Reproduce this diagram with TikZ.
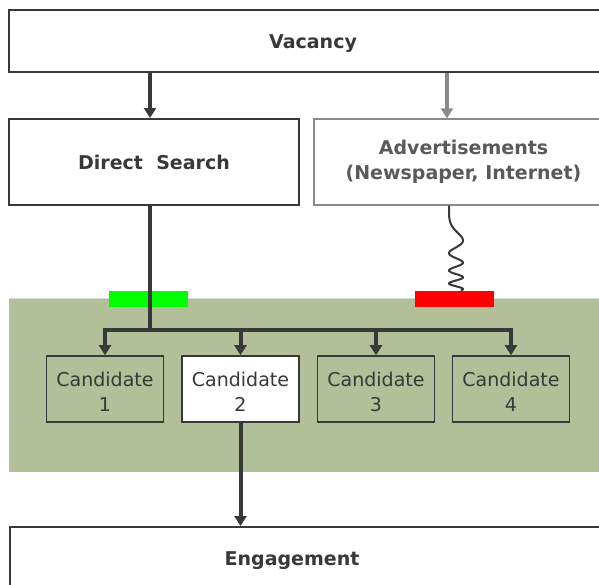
\documentclass[tikz,border=0pt]{standalone}
\usepackage{fontspec}
\setmainfont{DejaVu Sans}
\usetikzlibrary{arrows.meta}

\definecolor{linegray}{HTML}{383838}
\definecolor{adgray}{HTML}{8A8A8A}
\definecolor{adtext}{HTML}{5A5A5A}
\definecolor{poolgreen}{HTML}{B3BF98}

\begin{document}
\begin{tikzpicture}[x=1pt,y=-1pt]
    \tikzstyle{box}=[draw=linegray,line width=2pt,fill=white,inner sep=0pt]
    \tikzstyle{titletext}=[font=\fontsize{19}{25}\selectfont\bfseries,text=linegray,align=center]
    \tikzstyle{oneline}=[text height=14pt,text depth=0pt]
    \tikzstyle{candbox}=[draw=linegray,line width=1.6pt,minimum width=117pt,minimum height=66pt,inner sep=0pt]
    \tikzstyle{candtext}=[font=\fontsize{19}{25}\selectfont,text=linegray,align=center,yshift=-3pt]
    \tikzstyle{flow}=[draw=linegray,line width=4pt,-{Triangle[length=10pt,width=12pt]}]
    \tikzstyle{bar}=[minimum width=79pt,minimum height=16pt,inner sep=0pt]

    \useasboundingbox (0,0) rectangle (599,584);
    \clip (0,0) rectangle (599,584);

    % candidate pool
    \fill[poolgreen] (9,298) rectangle (620,472);
    \draw[black!15,line width=1pt] (9,298) -- (620,298);

    \node[box,titletext,oneline,minimum width=608pt,minimum height=62pt] (vacancy) at (313,41) {Vacancy};
    \node[box,titletext,oneline,minimum width=290pt,minimum height=86pt] (direct) at (154,162) {Direct\ \ Search};
    \node[box,draw=adgray,line width=1.2pt,titletext,text=adtext,minimum width=299pt,minimum height=86pt] (ads)
        at (463.5,162) {Advertisements\\(Newspaper, Internet)};
    \node[box,minimum width=610pt,minimum height=70pt,anchor=north west] (engagement) at (9,526) {};
    \node[titletext,anchor=base] (engtext) at (292,565) {Engagement};

    \node[bar,fill=green] (greenbar) at (148.5,299) {};
    \node[bar,fill=red] (redbar) at (454.5,299) {};

    \foreach \i/\x/\f in {1/105/poolgreen, 2/240.5/white, 3/376/poolgreen, 4/511/poolgreen}
        \node[candbox,fill=\f,label={[candtext]center:Candidate\\\i}] (c\i) at (\x,389) {};

    \coordinate (dsx) at (150,0);
    \coordinate (adx) at (447,0);
    \coordinate (sqx) at (449,0);
    \coordinate (bus) at (150,330);

    \draw[flow] (vacancy.south -| dsx) -- (direct.north -| dsx);
    \draw[flow,draw=adgray,line width=3.5pt] (vacancy.south -| adx) -- (ads.north -| adx);

    \draw[linegray,line width=3.5pt] (direct.south -| dsx) -- (bus);
    \draw[linegray,line width=4.5pt,line cap=rect] (c1.north |- bus) -- (c4.north |- bus);
    \foreach \i in {1,...,4}
        \draw[flow] (c\i.north |- bus) -- (c\i.north);
    \draw[flow] (c2.south) -- (c2.south |- engagement.north);

    % spring down to the red bar
    \begin{scope}[shift={(ads.south -| sqx)}]
        \draw[linegray,line width=2pt] plot[domain=0.001:1,samples=200,variable=\t]
            ({7-7*cos(180*pow(\t/0.41,2.23))},{85*\t});
    \end{scope}
\end{tikzpicture}
\end{document}
